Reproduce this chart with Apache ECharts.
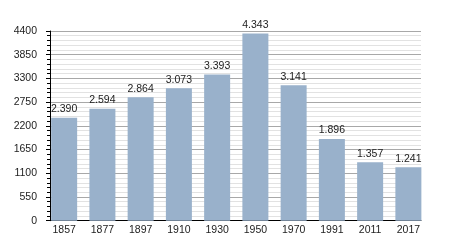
<!DOCTYPE html>
<html><head><meta charset="utf-8">
<script src="https://cdn.jsdelivr.net/npm/echarts@6/dist/echarts.min.js"></script>
<style>html,body{margin:0;padding:0;background:#fff}#c{width:450px;height:250px}</style>
</head><body><div id="c"></div>
<script>
const years = ['1857','1877','1897','1910','1930','1950','1970','1991','2011','2017'];
const population = [2390, 2594, 2864, 3073, 3393, 4343, 3141, 1896, 1357, 1241];
const yTicks = [0, 550, 1100, 1650, 2200, 2750, 3300, 3850, 4400];

const chart = echarts.init(document.getElementById('c'), null, {renderer: 'canvas'});
const font = 'Liberation Sans, Arial, sans-serif';
chart.setOption({
  animation: false,
  backgroundColor: '#fff',
  grid: {left: 50, right: 29, top: 31, bottom: 29.3},
  xAxis: {
    type: 'value', min: -0.37, max: 9.33,
    splitLine: {show: false},
    axisLine: {show: true, onZero: false, lineStyle: {color: '#000', width: 1}},
    axisTick: {show: false},
    axisLabel: {
      customValues: years.map((_, i) => i),
      formatter: v => years[Math.round(v)] || '',
      color: '#222', fontFamily: font, fontSize: 10.5, margin: 4
    }
  },
  yAxis: {
    type: 'value', min: yTicks[0], max: yTicks[yTicks.length - 1], interval: 550,
    axisLine: {show: true, onZero: false, lineStyle: {color: '#000', width: 1}},
    axisTick: {show: true, length: 4, lineStyle: {color: '#000', width: 1}},
    minorTick: {show: true, splitNumber: 5, length: 3, lineStyle: {color: '#000', width: 1}},
    splitLine: {show: true, lineStyle: {color: '#a8a8a8', width: 1}},
    minorSplitLine: {show: true, lineStyle: {color: '#e2e2e2', width: 1}},
    axisLabel: {color: '#222', fontFamily: font, fontSize: 10.5, margin: 13, formatter: v => String(v)}
  },
  series: [{
    type: 'bar',
    barWidth: 26,
    data: population.map((v, i) => [i, v]),
    itemStyle: {color: '#99b1cb'},
    label: {
      show: true, position: 'top', distance: 3,
      formatter: p => {
        const s = String(p.value[1]);
        return s.slice(0, -3) + '.' + s.slice(-3);
      },
      color: '#222', fontFamily: font, fontSize: 10.5
    }
  }]
});
</script></body></html>
